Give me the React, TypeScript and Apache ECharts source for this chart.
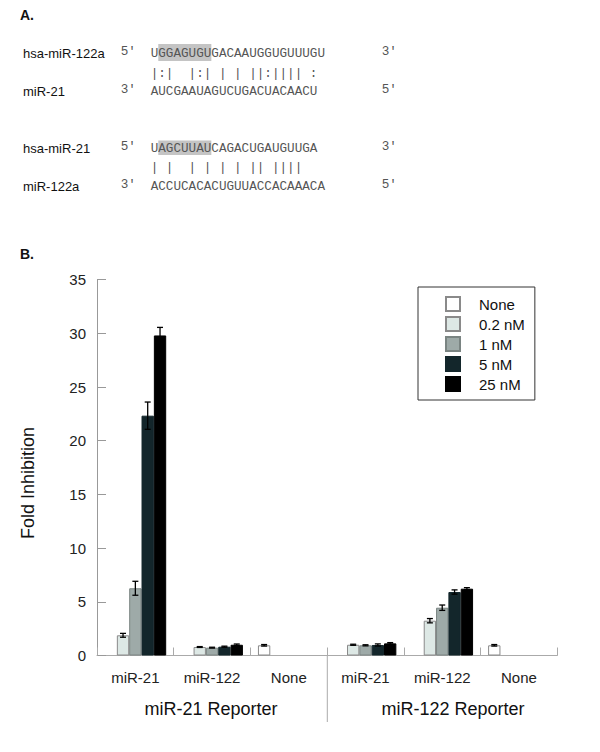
import React, { useEffect, useRef } from "react";
import * as echarts from "echarts";

// ---- data ----
const transfected = ["miR-21", "miR-122", "None"];
const reporters = ["miR-21 Reporter", "miR-122 Reporter"];
const doses = ["None", "0.2 nM", "1 nM", "5 nM", "25 nM"];

const noneVals = [null, null, 0.95, null, null, 0.95];
const nM02Vals = [1.88, 0.79, null, 1.0, 3.24, null];
const nM1Vals = [6.26, 0.73, null, 0.95, 4.45, null];
const nM5Vals = [22.33, 0.82, null, 0.98, 5.91, null];
const nM25Vals = [29.8, 1.0, null, 1.13, 6.22, null];

const noneErr = [null, null, 0.07, null, null, 0.07];
const nM02Err = [0.18, 0.04, null, 0.05, 0.2, null];
const nM1Err = [0.65, 0.04, null, 0.05, 0.25, null];
const nM5Err = [1.27, 0.05, null, 0.1, 0.2, null];
const nM25Err = [0.75, 0.07, null, 0.07, 0.1, null];

const yMin = 0;
const yMax = 35;
const yStep = 5;

// alignment panel text
const seq1Label = "hsa-miR-122a";
const seq1 = "UGGAGUGUGACAAUGGUGUUUGU";
const pair1 = "|:|  |:| | | ||:|||| :";
const seq2Label = "miR-21";
const seq2 = "AUCGAAUAGUCUGACUACAACU";
const seq3Label = "hsa-miR-21";
const seq3 = "UAGCUUAUCAGACUGAUGUUGA";
const pair2 = "| |  | | | | || ||||";
const seq4Label = "miR-122a";
const seq4 = "ACCUCACACUGUUACCACAAACA";

const doseColors = ["#ffffff", "#dde8e5", "#9eaaa8", "#13262b", "#000000"];
const doseBorders = ["#8a8a8a", "#8a8a8a", "#7a8482", "#13262b", "#000000"];

const SANS = "Liberation Sans, Arial, sans-serif";
const MONO = "Liberation Mono, monospace";
const GAP = 0.196;

export default function App() {
  const ref = useRef<HTMLDivElement>(null);
  useEffect(() => {
    if (!ref.current) return;
    const chart = echarts.init(ref.current, undefined, { renderer: "svg" });
    const cats = [0, 1, 2, 3, 4, 5].map((i) => reporters[Math.floor(i / 3)] + "|" + transfected[i % 3]);
    const vals = [noneVals, nM02Vals, nM1Vals, nM5Vals, nM25Vals];
    const errs = [noneErr, nM02Err, nM1Err, nM5Err, nM25Err];

    const barSeries = doses.map((d, k) => ({
      name: d,
      type: "bar",
      barGap: "0%",
      barCategoryGap: GAP * 100 + "%",
      data: vals[k].map((v) => (v == null ? "-" : v)),
      itemStyle: {
        color: doseColors[k],
        borderColor: doseBorders[k],
        borderWidth: 1,
      },
      z: 2,
    }));

    const errSeries = doses.map((d, k) => ({
      name: d + " err",
      type: "custom",
      z: 5,
      encode: { x: 0, y: 1 },
      data: vals[k]
        .map((v, i) => (v == null ? null : [i, v, errs[k][i]]))
        .filter((x) => x != null),
      renderItem: (params: any, api: any) => {
        const ci = api.value(0);
        const v = api.value(1);
        const e = api.value(2);
        const catW = api.size([1, 0])[0];
        const bw = (catW * (1 - GAP)) / 5;
        const cx = api.coord([ci, 0])[0] + (k - 2) * bw;
        const top = api.coord([ci, v + e])[1];
        const bot = api.coord([ci, v - e])[1];
        const cap = 3;
        const st = { stroke: "#000", lineWidth: 1.3 };
        return {
          type: "group",
          children: [
            { type: "line", shape: { x1: cx, y1: top, x2: cx, y2: bot }, style: st },
            { type: "line", shape: { x1: cx - cap, y1: top, x2: cx + cap, y2: top }, style: st },
            { type: "line", shape: { x1: cx - cap, y1: bot, x2: cx + cap, y2: bot }, style: st },
          ],
        };
      },
    }));

    const CW = 7.58;
    const SX = 150.7;
    const txt = (t: string, x: number, y: number, extra: any = {}) => ({
      type: "text",
      x,
      y,
      style: {
        text: t,
        fontFamily: SANS,
        fontSize: 13,
        fill: "#111",
        verticalAlign: "middle",
        ...extra,
      },
    });
    const mono = (t: string, x: number, y: number) =>
      txt(t, x, y, { fontFamily: MONO, fontSize: 12.63, fill: "#555" });

    const yName: any = txt("Fold Inhibition", 28, 483, { fontSize: 18, align: "center" });
    yName.rotation = Math.PI / 2;

    const graphic: any[] = [
      { type: "rect", shape: { x: SX + CW, y: 44, width: CW * 7, height: 17 }, style: { fill: "#c4c4c4" } },
      { type: "rect", shape: { x: SX + CW, y: 140.5, width: CW * 7, height: 14.5 }, style: { fill: "#c4c4c4" } },
      txt("A.", 20, 15, { fontWeight: "bold", fontSize: 14 }),
      txt("B.", 20, 254, { fontWeight: "bold", fontSize: 14 }),
      txt(seq1Label, 23, 53),
      mono("5\u2032", 120.7, 51),
      mono(seq1, SX, 53),
      mono("3\u2032", 381.7, 51),
      mono(pair1, SX, 73),
      txt(seq2Label, 23, 91),
      mono("3\u2032", 120.7, 89),
      mono(seq2, SX, 91),
      mono("5\u2032", 381.7, 89),
      txt(seq3Label, 23, 148),
      mono("5\u2032", 120.7, 146),
      mono(seq3, SX, 148),
      mono("3\u2032", 381.7, 146),
      mono(pair2, SX, 167),
      txt(seq4Label, 23, 186),
      mono("3\u2032", 120.7, 184),
      mono(seq4, SX, 186),
      mono("5\u2032", 381.7, 184),
      yName,
      txt(reporters[0], 211, 709, { fontSize: 18, align: "center" }),
      txt(reporters[1], 453, 709, { fontSize: 18, align: "center" }),
      {
        type: "line",
        shape: { x1: 327.3, y1: 656, x2: 327.3, y2: 722 },
        style: { stroke: "#aaa", lineWidth: 1 },
      },
    ];

    chart.setOption({
      animation: false,
      backgroundColor: "#fff",
      grid: { left: 97, right: 42.7, top: 279.6, bottom: 96.5 },
      legend: {
        data: doses,
        orient: "vertical",
        left: 418,
        top: 287,
        icon: "rect",
        itemWidth: 14,
        itemHeight: 14,
        itemGap: 4,
        padding: [9, 10, 8, 27],
        borderColor: "#333",
        borderWidth: 1,
        backgroundColor: "#fff",
        selectedMode: false,
        textStyle: {
          fontFamily: SANS,
          fontSize: 15,
          color: "#111",
          lineHeight: 14,
          padding: [0, 0, 0, 14],
        },
      },
      xAxis: {
        type: "category",
        data: cats,
        axisLine: { lineStyle: { color: "#aaa", width: 1 } },
        axisTick: {
          show: true,
          inside: true,
          length: 8,
          interval: 0,
          alignWithLabel: false,
          lineStyle: { color: "#aaa" },
        },
        axisLabel: {
          interval: 0,
          margin: 14,
          fontFamily: SANS,
          fontSize: 15,
          color: "#222",
          formatter: (_v: string, i: number) => transfected[i % 3],
        },
        splitLine: { show: false },
      },
      yAxis: {
        type: "value",
        min: yMin,
        max: yMax,
        interval: yStep,
        axisLine: { show: true, lineStyle: { color: "#999", width: 1 } },
        axisTick: { show: true, inside: true, length: 9, lineStyle: { color: "#999" } },
        axisLabel: { margin: 11, fontFamily: SANS, fontSize: 15, color: "#222" },
        splitLine: { show: false },
      },
      graphic,
      series: [...barSeries, ...errSeries],
    });
    return () => chart.dispose();
  }, []);
  return <div ref={ref} style={{ width: 600, height: 752, position: "absolute", left: 0, top: 0 }} />;
}
